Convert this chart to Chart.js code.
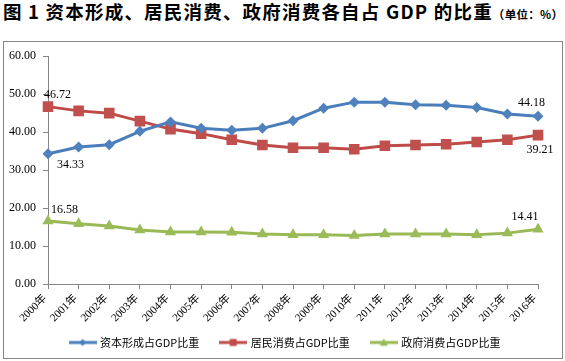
<!DOCTYPE html>
<html>
<head>
<meta charset="utf-8">
<script src="https://cdn.jsdelivr.net/npm/chart.js@4.4.0/dist/chart.umd.min.js"></script>
<style>
  html, body { margin: 0; padding: 0; background: #fff; }
  body { width: 565px; height: 361px; position: relative; overflow: hidden; }
  #title { position: absolute; left: 3px; top: -2px; white-space: nowrap; letter-spacing: 1.2px;
    font-family: "Noto Sans CJK SC", sans-serif; font-weight: bold; font-size: 18.5px; color: #000; }
  #title .unit { font-size: 11.5px; letter-spacing: 0.3px; }
  #box { position: absolute; left: 3px; top: 41px; width: 558px; height: 316px; border: 1px solid #868686; }
  #c { display: block; }
</style>
</head>
<body>
<div id="title">图 1 资本形成、居民消费、政府消费各自占 GDP 的比重<span class="unit">（单位：%）</span></div>
<div id="box"><canvas id="c" width="558" height="316"></canvas></div>
<script>
const categories = ["2000年","2001年","2002年","2003年","2004年","2005年","2006年","2007年","2008年","2009年","2010年","2011年","2012年","2013年","2014年","2015年","2016年"];
const capitalFormation = [34.33, 36.1, 36.7, 40.2, 42.7, 41.0, 40.5, 41.0, 43.0, 46.3, 47.9, 47.9, 47.2, 47.1, 46.5, 44.8, 44.18];
const householdConsumption = [46.72, 45.6, 45.0, 42.9, 40.8, 39.6, 38.0, 36.6, 35.9, 35.9, 35.5, 36.4, 36.6, 36.8, 37.4, 38.0, 39.21];
const governmentConsumption = [16.58, 15.9, 15.3, 14.2, 13.7, 13.7, 13.6, 13.2, 13.0, 13.0, 12.75, 13.2, 13.2, 13.2, 13.0, 13.4, 14.41];
const seriesNames = ["资本形成占GDP比重", "居民消费占GDP比重", "政府消费占GDP比重"];

function legendIcon(color, style, r) {
  const cv = document.createElement('canvas');
  cv.width = 28; cv.height = 12;
  const g = cv.getContext('2d');
  g.strokeStyle = color; g.lineWidth = 3;
  g.beginPath(); g.moveTo(0, 6); g.lineTo(28, 6); g.stroke();
  g.fillStyle = color;
  g.beginPath();
  if (style === 'diamond') { g.moveTo(14 - r, 6); g.lineTo(14, 6 - r); g.lineTo(14 + r, 6); g.lineTo(14, 6 + r); }
  else if (style === 'square') { g.rect(14 - r, 6 - r, 2 * r, 2 * r); }
  else { g.moveTo(14, 6 - r); g.lineTo(14 + r, 6 + r * 0.8); g.lineTo(14 - r, 6 + r * 0.8); }
  g.closePath(); g.fill();
  return cv;
}
const icons = [legendIcon('#4A7EBB', 'diamond', 3.5), legendIcon('#BE4B48', 'square', 3.5), legendIcon('#98B954', 'tri', 4)];

const labelOffsets = [
  [[9, 11, 'left'], [-6.5, -13, 'center']],
  [[9.5, -12, 'center'], [2, 15, 'center']],
  [[16.5, -11, 'center'], [-13, -12, 'center']]
];
const endLabels = {
  id: 'endLabels',
  afterDatasetsDraw(chart) {
    const ctx = chart.ctx;
    ctx.save();
    ctx.font = '12px "Liberation Serif", serif';
    ctx.fillStyle = '#000';
    ctx.textBaseline = 'middle';
    chart.data.datasets.forEach((ds, di) => {
      const meta = chart.getDatasetMeta(di);
      [0, ds.data.length - 1].forEach((idx, k) => {
        const p = meta.data[idx];
        const off = labelOffsets[di][k];
        ctx.textAlign = off[2];
        ctx.fillText(ds.data[idx].toFixed(2), p.x + off[0], p.y + off[1]);
      });
    });
    ctx.restore();
  }
};
// let rotated x labels draw below the compact axis box, and centre the legend like the original
const layoutTweak = {
  id: 'layoutTweak',
  afterLayout(chart) {
    chart.scales.x.bottom += 30;
    chart.legend.left += 14.5;
    chart.legend.right += 14.5;
  }
};

new Chart(document.getElementById('c'), {
  type: 'line',
  data: {
    labels: categories,
    datasets: [
      { label: seriesNames[0], data: capitalFormation, borderColor: '#4A7EBB', backgroundColor: '#4F81BD',
        borderWidth: 3, pointStyle: 'rectRot', pointRadius: 5.5, pointBorderWidth: 0, tension: 0 },
      { label: seriesNames[1], data: householdConsumption, borderColor: '#BE4B48', backgroundColor: '#C0504D',
        borderWidth: 3, pointStyle: 'rect', pointRadius: 7.5, pointBorderWidth: 0, tension: 0 },
      { label: seriesNames[2], data: governmentConsumption, borderColor: '#98B954', backgroundColor: '#9BBB59',
        borderWidth: 3, pointStyle: 'triangle', pointRadius: 6.5, pointBorderWidth: 0, tension: 0 }
    ]
  },
  options: {
    responsive: false,
    animation: false,
    layout: { padding: { top: 14, right: 24, bottom: 0, left: 0 } },
    plugins: {
      tooltip: { enabled: false },
      legend: {
        position: 'bottom',
        labels: {
          usePointStyle: true,
          pointStyleWidth: 24,
          padding: 22,
          color: '#000',
          font: { family: '"Noto Sans CJK SC", sans-serif', size: 11 },
          generateLabels(chart) {
            return chart.data.datasets.map((ds, i) => ({
              text: ds.label, pointStyle: icons[i], fillStyle: ds.borderColor,
              strokeStyle: ds.borderColor, lineWidth: 0, datasetIndex: i, hidden: false
            }));
          }
        }
      }
    },
    scales: {
      x: {
        afterFit(s) { s.height = 31; },
        grid: { drawOnChartArea: false, tickLength: 5, color: '#868686' },
        border: { color: '#868686', width: 1 },
        ticks: { minRotation: 45, maxRotation: 45, autoSkip: false, padding: 3, labelOffset: -3, color: '#000',
          font: { family: '"Liberation Serif", "Noto Sans CJK SC", serif', size: 11 } }
      },
      y: {
        min: 0, max: 60,
        afterFit(s) { s.width = 44; },
        grid: { drawOnChartArea: false, tickLength: 5, color: '#868686' },
        border: { color: '#868686', width: 1 },
        ticks: { stepSize: 10, padding: 7, color: '#000',
          font: { family: '"Liberation Serif", serif', size: 12 },
          callback: v => Number(v).toFixed(2) }
      }
    }
  },
  plugins: [endLabels, layoutTweak]
});
</script>
</body>
</html>
